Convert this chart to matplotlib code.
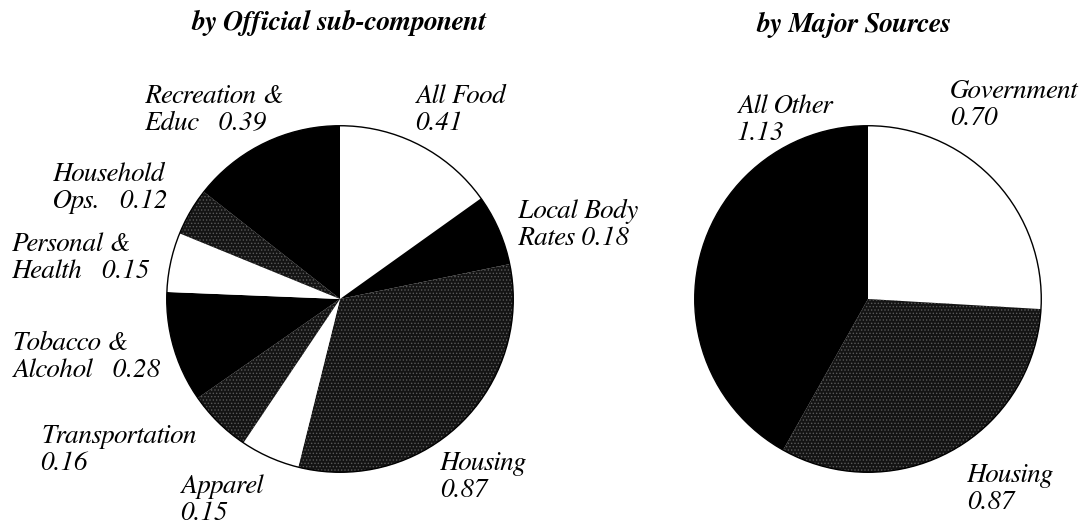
import matplotlib
matplotlib.use('Agg')
import matplotlib.pyplot as plt
from matplotlib.patches import Circle

# left pie: official sub-components, clockwise from 12 o'clock
sub_names = ['All Food', 'Local Body\nRates', 'Housing', 'Apparel', 'Transportation',
             'Tobacco &\nAlcohol', 'Personal &\nHealth', 'Household\nOps.', 'Recreation &\nEduc']
sub_values = [0.41, 0.18, 0.87, 0.15, 0.16, 0.28, 0.15, 0.12, 0.39]
sub_fill = ['white', 'black', 'dots', 'white', 'dots', 'black', 'white', 'dots', 'black']

# right pie: major sources
src_names = ['Government', 'Housing', 'All Other']
src_values = [0.70, 0.87, 1.13]
src_fill = ['white', 'dots', 'black']

W, H = 1084, 524
plt.rcParams['font.family'] = ['FreeSerif', 'Liberation Serif', 'DejaVu Serif']
plt.rcParams['hatch.linewidth'] = 0.6

fig = plt.figure(figsize=(W / 100, H / 100), dpi=100)


def draw_pie(cx, cy, r, values, fills):
    ax = fig.add_axes([(cx - r) / W, 1 - (cy + r) / H, 2 * r / W, 2 * r / H])
    face = {'white': 'white', 'black': 'black', 'dots': '#141414'}
    wedges, _ = ax.pie(values, startangle=90, counterclock=False,
                       colors=[face[f] for f in fills],
                       wedgeprops=dict(linewidth=0))
    for w, f in zip(wedges, fills):
        if f == 'dots':
            w.set_edgecolor('#5a5a5a')
            w.set_linewidth(0)
            w.set_hatch('.....')
    ax.add_patch(Circle((0, 0), 1, fill=False, edgecolor='black', linewidth=1.0))
    ax.set_xlim(-1.01, 1.01)
    ax.set_ylim(-1.01, 1.01)
    ax.set_aspect('equal')
    ax.axis('off')
    return ax


draw_pie(340, 299, 175, sub_values, sub_fill)
draw_pie(868, 299, 175, src_values, src_fill)


def label(x, y, txt, ha='left'):
    fig.text(x / W, 1 - y / H, txt, ha=ha, va='top', fontsize=19.5,
             style='italic', linespacing=1.12)


sub_pos = [(415, 84, 'left', '{}\n{:.2f}'),
           (518, 199, 'left', '{} {:.2f}'),
           (440, 451, 'left', '{}\n{:.2f}'),
           (180, 474, 'left', '{}\n{:.2f}'),
           (40, 424, 'left', '{}\n{:.2f}'),
           (12, 331, 'left', '{}   {:.2f}'),
           (12, 232, 'left', '{}   {:.2f}'),
           (53, 162, 'left', '{}   {:.2f}'),
           (145, 84, 'left', '{}   {:.2f}')]
for name, v, (x, y, ha, fmt) in zip(sub_names, sub_values, sub_pos):
    label(x, y, fmt.format(name, v), ha)

src_pos = [(950, 79), (967, 463), (737, 94)]
for name, v, (x, y) in zip(src_names, src_values, src_pos):
    label(x, y, '{}\n{:.2f}'.format(name, v))

fig.text(338 / W, 1 - 23 / H, 'by Official sub-component', ha='center', va='center',
         fontsize=20, style='italic', weight='bold')
fig.text(853 / W, 1 - 25 / H, 'by Major Sources', ha='center', va='center',
         fontsize=20, style='italic', weight='bold')

fig.savefig('out.png', dpi=100, facecolor='white')
